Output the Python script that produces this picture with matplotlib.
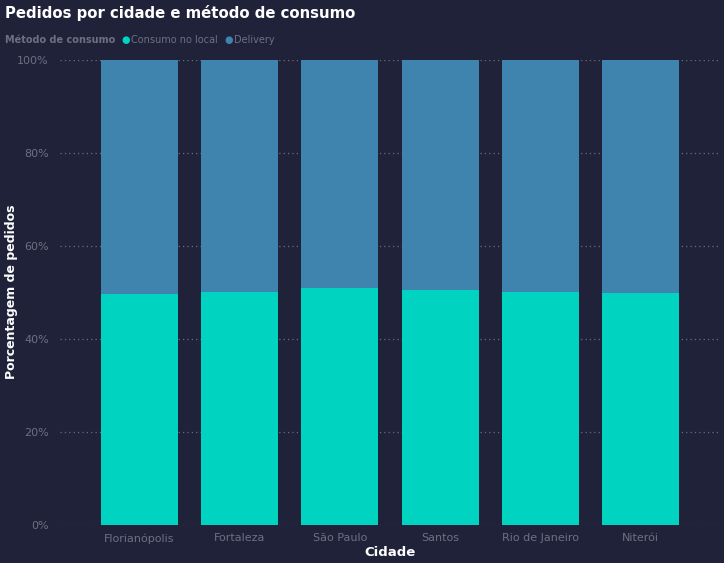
import matplotlib
matplotlib.use("Agg")
import matplotlib.pyplot as plt
from matplotlib.ticker import FuncFormatter

cidades = ["Florianópolis", "Fortaleza", "São Paulo", "Santos", "Rio de Janeiro", "Niterói"]
consumo_local = [49.7, 50.1, 51.0, 50.5, 50.1, 49.9]
delivery = [100 - v for v in consumo_local]

bg = "#20223a"
cor_local = "#01d3c1"
cor_delivery = "#3f84ae"
cinza = "#6d7083"

plt.rcParams["font.family"] = ["Liberation Sans Narrow", "DejaVu Sans"]

fig = plt.figure(figsize=(7.24, 5.63), dpi=100, facecolor=bg)
ax = fig.add_axes([60 / 724, 1 - 525 / 563, 660 / 724, 465 / 563])
ax.set_facecolor(bg)

x = range(len(cidades))
ax.bar(x, consumo_local, width=0.77, color=cor_local, zorder=3)
ax.bar(x, delivery, width=0.77, bottom=consumo_local, color=cor_delivery, zorder=3)

ax.set_xlim(-0.795, len(cidades) - 0.205)
ax.set_ylim(0, 100)
ax.set_yticks([0, 20, 40, 60, 80, 100])
ax.yaxis.set_major_formatter(FuncFormatter(lambda v, p: "%d%%" % v))
ax.set_xticks(list(x))
ax.set_xticklabels(cidades)
ax.tick_params(axis="both", length=0, colors=cinza, labelsize=8)
ax.tick_params(axis="x", pad=6)
ax.tick_params(axis="y", pad=8)
ax.grid(axis="y", color="#6a6d80", linestyle=(0, (1, 2.5)), linewidth=0.9, zorder=0)
for s in ax.spines.values():
    s.set_visible(False)

bold = ["DejaVu Sans"]
fig.text(390 / 724, 1 - 553 / 563, "Cidade", color="white", fontsize=9.5,
         fontweight="bold", ha="center", va="center", family=bold)
fig.text(12 / 724, 1 - 292 / 563, "Porcentagem de pedidos", color="white", fontsize=9,
         fontweight="bold", ha="center", va="center", rotation=90, family=bold)

fig.text(5 / 724, 1 - 13 / 563, "Pedidos por cidade e método de consumo", color="white",
         fontsize=10.7, fontweight="bold", va="center", ha="left", family=bold)

# legenda manual, posicoes pela largura dos textos
ly = 1 - 40 / 563
r = fig.canvas.get_renderer()
px = 5
partes = [("Método de consumo", cinza, "bold", 6), ("●", cor_local, "normal", 1),
          ("Consumo no local", cinza, "normal", 7), ("●", cor_delivery, "normal", 1),
          ("Delivery", cinza, "normal", 0)]
for txt, cor, peso, gap in partes:
    t = fig.text(px / 724, ly, txt, color=cor, fontsize=7, fontweight=peso,
                 va="center", family=bold)
    px += t.get_window_extent(r).width + gap

fig.savefig("out.png", dpi=100, facecolor=bg)
